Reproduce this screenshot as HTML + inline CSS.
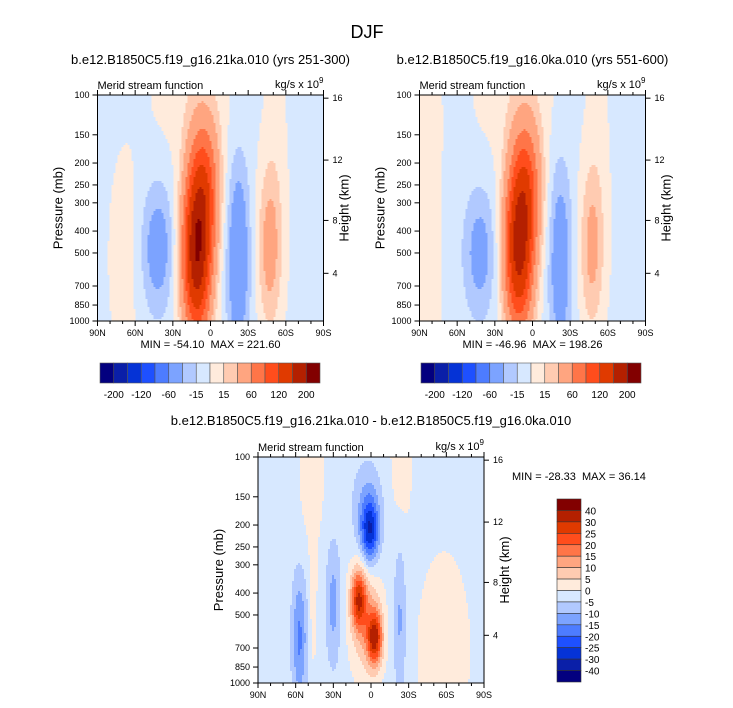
<!DOCTYPE html>
<html><head><meta charset="utf-8">
<style>
body{margin:0;background:#fff;}
svg{display:block;font-family:"Liberation Sans",sans-serif;}
text{white-space:pre;}
</style></head>
<body>
<svg id="chart" width="733" height="708" viewBox="0 0 733 708">
<text x="367" y="38" font-size="18" text-anchor="middle">DJF</text>
<g id="layer"></g>
</svg>
<script>
// ---------- data ----------
const colors = ['#03007f','#0a1fa8','#0533d6','#1e50ff','#4d7cff','#7ca3ff','#b1c9ff','#d7e8ff','#ffebdc','#ffcbb1','#ffa580','#ff7548','#ff4d1c','#e03a00','#b42000','#820000'];
const levelsAbs = [-200,-160,-120,-90,-60,-30,-15,0,15,30,60,90,120,160,200];
const levelsDiff = [-40,-30,-25,-20,-15,-10,-5,0,5,10,15,20,25,30,40];
const cbLabelsAbs = ['-200','-120','-60','-15','15','60','120','200'];
const cbLabelsDiff = ['40','30','25','20','15','10','5','0','-5','-10','-15','-20','-25','-30','-40'];
const latTicks = [90,60,30,0,-30,-60,-90];
const latTickLabels = ['90N','60N','30N','0','30S','60S','90S'];
const presTicks = [100,150,200,250,300,400,500,700,850,1000];
const heightTicks = [4,8,12,16];
// field blobs (lat, log-pressure z 0=100mb..1=1000mb, amplitude, lat width, z width)
const p1Lat = [11,5,42,-22,-47,68,14,-52];
const p1Z   = [0.72,0.4,0.68,0.72,0.68,0.72,0.0,0.3];
const p1Amp = [185,90,-40,-52,42,10,12,8];
const p1Sx  = [11.5,12,13,9,9.4,14,32,10];
const p1Sz  = [0.35,0.3,0.28,0.42,0.35,0.5,0.3,0.6];
const p1Base = -4;
const p2Lat = [11,5,42,-22,-47,88,14,-52];
const p2Z   = [0.7,0.4,0.7,0.74,0.68,0.5,0.0,0.3];
const p2Amp = [165,85,-36,-45,38,11,12,8];
const p2Sx  = [11.5,12,13,9,9.4,16,32,10];
const p2Sz  = [0.35,0.3,0.28,0.42,0.35,1.5,0.3,0.6];
const p2Base = -4;
const p3Lat = [1,10,-3,4,30,57,-23,46,-58,47,-24,3];
const p3Z   = [0.33,0.63,0.8,0.72,0.65,0.8,0.72,0.6,0.85,0.1,0.0,0.22];
const p3Amp = [-24,26,30,12,-10,-14,-9,5,5,5,5,-8];
const p3Sx  = [7,6,6,12,6,6,5,3,22,10,9,12];
const p3Sz  = [0.14,0.13,0.12,0.25,0.27,0.28,0.35,0.35,0.45,0.3,0.35,0.2];
const p3Base = -2;

const NS='http://www.w3.org/2000/svg';
const layer=document.getElementById('layer');
function mk(tag,attrs,parent){const e=document.createElementNS(NS,tag);for(const k in attrs)e.setAttribute(k,attrs[k]);(parent||layer).appendChild(e);return e;}
function colorFor(v,levels){let i=0;while(i<levels.length&&v>=levels[i])i++;return colors[i];}

function field(lat,z,L,Z,A,SX,SZ,base){let v=base;for(let i=0;i<L.length;i++){const a=(lat-L[i])/SX[i],b=(z-Z[i])/SZ[i];v+=A[i]*Math.exp(-a*a-b*b);}return v;}

function panel(o){
  const {x0,y0,w,h}=o;
  const g=mk('g',{});
  
  
  const xs=lat=>x0+(90-lat)/180*w;
  const ys=p=>y0+Math.log10(p/100)*h;
  const nx=113,ny=113,cw=w/nx,ch=h/ny;
  const cells=mk('g',{'shape-rendering':'crispEdges'},g);
  
  
  for(let j=0;j<ny;j++)for(let i=0;i<nx;i++){
    const lat=90-(i+0.5)/nx*180, z=(j+0.5)/ny;
    const v=field(lat,z,o.L,o.Z,o.A,o.SX,o.SZ,o.base);
    const r=mk('rect',{x:(x0+i*cw).toFixed(2),y:(y0+j*ch).toFixed(2),width:(cw+0.5).toFixed(2),height:(ch+0.5).toFixed(2),fill:colorFor(v,o.levels)},cells);
    
    
  }
  const fr=mk('rect',{x:x0,y:y0,width:w,height:h,fill:'none',stroke:'#000','stroke-width':1},g);
  
  
  for(let lat=90;lat>=-90;lat-=10){
    const x=xs(lat),maj=lat%30===0,len=maj?5:3;
    mk('line',{x1:x,y1:y0+h,x2:x,y2:y0+h+len,stroke:'#000'},g);
    mk('line',{x1:x,y1:y0,x2:x,y2:y0-len,stroke:'#000'},g);
  }
  latTicks.forEach((lat,i)=>{
    const t=mk('text',{x:xs(lat),y:y0+h+15,'font-size':9,'text-anchor':'middle'},g);
    t.textContent=latTickLabels[i];
    
    
  });
  presTicks.forEach(p=>{
    const y=ys(p);
    mk('line',{x1:x0-5,y1:y,x2:x0,y2:y,stroke:'#000'},g);
    const t=mk('text',{x:x0-8,y:y+3,'font-size':9,'text-anchor':'end'},g);
    t.textContent=p;
    
    
  });
  const hf={4:0.789,8:0.555,12:0.288,16:0.014};
  heightTicks.forEach(hh=>{
    const y=y0+hf[hh]*h;
    mk('line',{x1:x0+w,y1:y,x2:x0+w+5,y2:y,stroke:'#000'},g);
    const t=mk('text',{x:x0+w+9,y:y+3,'font-size':9},g);
    t.textContent=hh;
    
    
  });
  let t=mk('text',{x:x0-35,y:y0+h/2,'font-size':13,'text-anchor':'middle',transform:`rotate(-90 ${x0-35} ${y0+h/2})`},g);
  t.textContent='Pressure (mb)';
  
  
  t=mk('text',{x:x0+w+25,y:y0+h/2,'font-size':13,'text-anchor':'middle',transform:`rotate(-90 ${x0+w+25} ${y0+h/2})`},g);
  t.textContent='Height (km)';
  
  
  t=mk('text',{x:x0,y:y0-6,'font-size':11},g);
  t.textContent='Merid stream function';
  
  
  t=mk('text',{x:x0+w,y:y0-7,'font-size':11,'text-anchor':'end'},g);
  t.innerHTML='kg/s x 10<tspan dy="-5" font-size="8">9</tspan>';
  
  
  t=mk('text',{x:x0+w/2,y:o.titleY,'font-size':13,'text-anchor':'middle'},g);
  t.textContent=o.title;
  
  
  t=mk('text',{x:o.mmX,y:o.mmY,'font-size':11,'text-anchor':o.mmAnchor},g);
  t.textContent=o.mm;
  
  
}

panel({name:'panel-21ka',x0:97.5,y0:95,w:226,h:226,L:p1Lat,Z:p1Z,A:p1Amp,SX:p1Sx,SZ:p1Sz,base:p1Base,levels:levelsAbs,
  title:'b.e12.B1850C5.f19_g16.21ka.010 (yrs 251-300)',titleY:64,mm:'MIN = -54.10  MAX = 221.60',mmX:210.5,mmY:348,mmAnchor:'middle'});
panel({name:'panel-0ka',x0:419.5,y0:95,w:226,h:226,L:p2Lat,Z:p2Z,A:p2Amp,SX:p2Sx,SZ:p2Sz,base:p2Base,levels:levelsAbs,
  title:'b.e12.B1850C5.f19_g16.0ka.010 (yrs 551-600)',titleY:64,mm:'MIN = -46.96  MAX = 198.26',mmX:532.5,mmY:348,mmAnchor:'middle'});
panel({name:'panel-difference',x0:258,y0:457,w:226,h:226,L:p3Lat,Z:p3Z,A:p3Amp,SX:p3Sx,SZ:p3Sz,base:p3Base,levels:levelsDiff,
  title:'b.e12.B1850C5.f19_g16.21ka.010 - b.e12.B1850C5.f19_g16.0ka.010',titleY:425,mm:'MIN = -28.33  MAX = 36.14',mmX:512,mmY:480,mmAnchor:'start'});

function hbar(x0,name){
  const g=mk('g',{});
  
  
  const bw=220/colors.length;
  colors.forEach((c,i)=>{
    const r=mk('rect',{x:x0+i*bw,y:363,width:bw,height:20,fill:c,stroke:'#555','stroke-width':0.6},g);
    
    
  });
  cbLabelsAbs.forEach((l,k)=>{
    const t=mk('text',{x:x0+(2*k+1)*bw,y:398,'font-size':10,'text-anchor':'middle'},g);
    t.textContent=l;
    
    
  });
}
hbar(100,'colorbar-left');
hbar(421,'colorbar-right');
(function(){
  const g=mk('g',{});
  
  
  const y0=499,bh=183/colors.length;
  colors.slice().reverse().forEach((c,i)=>{
    const r=mk('rect',{x:557,y:y0+i*bh,width:24,height:bh,fill:c,stroke:'#333','stroke-width':0.6},g);
    
    
  });
  cbLabelsDiff.forEach((l,k)=>{
    const t=mk('text',{x:585,y:y0+(k+1)*bh+4,'font-size':10},g);
    t.textContent=l;
    
    
  });
})();
</script>
</body></html>
